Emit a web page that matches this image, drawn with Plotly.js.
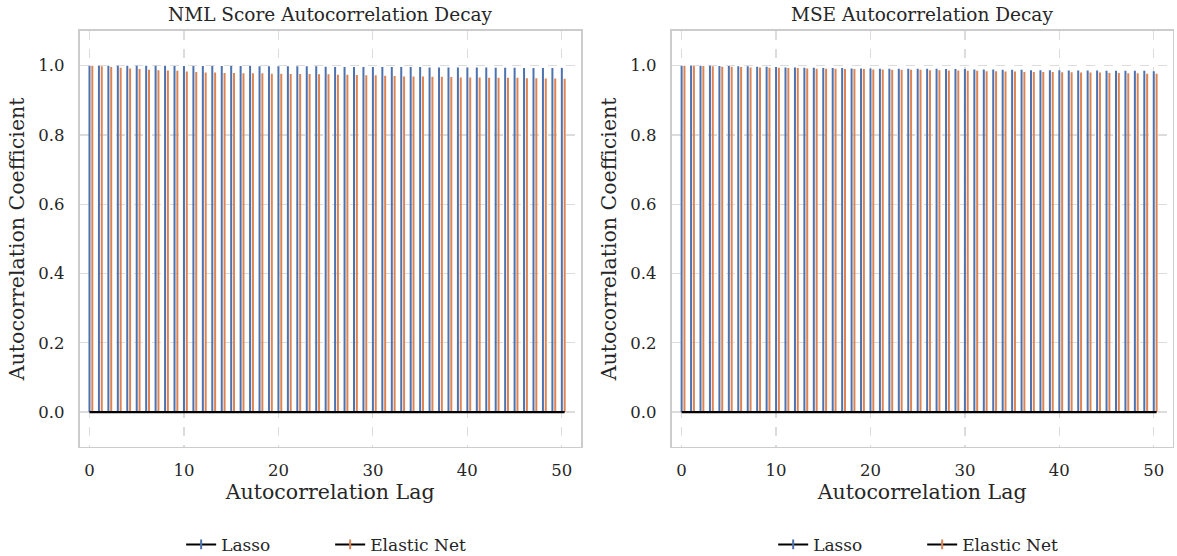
<!DOCTYPE html>
<html>
<head>
<meta charset="utf-8">
<script src="https://cdn.plot.ly/plotly-3.0.1.min.js"></script>
<style>html,body{margin:0;padding:0;background:#fff;}#chart{width:1177px;height:556px;}</style>
</head>
<body>
<div id="chart"></div>
<script>
// ---- data ----
const lags = [0,1,2,3,4,5,6,7,8,9,10,11,12,13,14,15,16,17,18,19,20,21,22,23,24,25,26,27,28,29,30,31,32,33,34,35,36,37,38,39,40,41,42,43,44,45,46,47,48,49,50];
const seriesNames = ["Lasso", "Elastic Net"];
const panelTitles = ["NML Score Autocorrelation Decay", "MSE Autocorrelation Decay"];
const xTitle = "Autocorrelation Lag";
const yTitle = "Autocorrelation Coefficient";

const nmlLasso = [1.000,1.000,1.000,1.000,1.000,1.000,1.000,1.000,1.000,0.999,0.999,0.999,0.999,0.999,0.999,0.999,0.999,0.999,0.998,0.998,0.998,0.998,0.998,0.998,0.998,0.997,0.996,0.996,0.996,0.996,0.996,0.996,0.996,0.996,0.996,0.996,0.995,0.995,0.995,0.995,0.995,0.995,0.995,0.994,0.994,0.994,0.993,0.993,0.993,0.993,0.993];
const nmlElastic = [1.000,0.998,0.996,0.994,0.992,0.990,0.988,0.987,0.986,0.985,0.983,0.982,0.980,0.980,0.979,0.979,0.978,0.978,0.978,0.977,0.977,0.976,0.976,0.976,0.975,0.975,0.974,0.974,0.973,0.972,0.972,0.971,0.970,0.969,0.969,0.969,0.968,0.968,0.967,0.966,0.966,0.966,0.965,0.965,0.965,0.965,0.964,0.964,0.963,0.963,0.962];
const mseLasso = [1.000,1.000,1.000,1.000,0.999,0.999,0.998,0.998,0.997,0.997,0.996,0.995,0.995,0.994,0.994,0.993,0.993,0.993,0.992,0.992,0.992,0.991,0.991,0.991,0.991,0.991,0.991,0.991,0.990,0.990,0.990,0.989,0.989,0.989,0.988,0.988,0.988,0.987,0.987,0.987,0.987,0.986,0.986,0.986,0.986,0.985,0.985,0.985,0.985,0.985,0.984];
const mseElastic = [1.000,0.999,0.999,0.998,0.997,0.997,0.996,0.995,0.995,0.994,0.994,0.993,0.993,0.992,0.991,0.991,0.991,0.990,0.990,0.990,0.989,0.989,0.988,0.988,0.988,0.988,0.987,0.987,0.986,0.986,0.985,0.985,0.984,0.984,0.983,0.983,0.982,0.982,0.982,0.982,0.981,0.981,0.980,0.980,0.980,0.979,0.979,0.978,0.978,0.977,0.977];

const xTicks = [0,10,20,30,40,50];
const yTicks = [0.0,0.2,0.4,0.6,0.8,1.0];
const yTickText = ["0.0","0.2","0.4","0.6","0.8","1.0"];

// ---- style ----
const colors = ["#4C72B0", "#DD8452"];
const offsets = [0, 0.3];
const FONT = "DejaVu Serif, Liberation Serif, serif";
const TXT = "#262626";

function stemXY(xs, ys, off) {
  const X = [], Y = [];
  for (let i = 0; i < xs.length; i++) {
    X.push(xs[i] + off, xs[i] + off, null);
    Y.push(0, ys[i], null);
  }
  return {X, Y};
}

const panels = [[nmlLasso, nmlElastic], [mseLasso, mseElastic]];
const traces = [];
panels.forEach((pair, p) => {
  const xa = p === 0 ? "x" : "x2";
  const ya = p === 0 ? "y" : "y2";
  const lg = p === 0 ? "legend" : "legend2";
  pair.forEach((vals, s) => {
    const st = stemXY(lags, vals, offsets[s]);
    traces.push({
      type: "scatter", mode: "lines", x: st.X, y: st.Y,
      xaxis: xa, yaxis: ya, showlegend: false, hoverinfo: "skip",
      line: {color: colors[s], width: 2}
    });
  });
  // baseline
  traces.push({
    type: "scatter", mode: "lines",
    x: [lags[0], lags[lags.length - 1] + offsets[1]], y: [0, 0],
    xaxis: xa, yaxis: ya, showlegend: false, hoverinfo: "skip",
    line: {color: "#000000", width: 2.2}
  });
  // legend entries (stem-style icons)
  seriesNames.forEach((nm, s) => {
    traces.push({
      type: "scatter", mode: "lines+markers", x: [null], y: [null],
      xaxis: xa, yaxis: ya, name: nm, legend: lg, showlegend: true,
      line: {color: "#000000", width: 2},
      marker: {symbol: "line-ns-open", size: 7, color: colors[s], line: {color: colors[s], width: 2}}
    });
  });
});

function xaxisCfg(domain, anchor) {
  return {
    domain: domain, anchor: anchor, range: [-1.05, 52.0],
    tickvals: xTicks, ticktext: xTicks.map(String),
    ticks: "outside", ticklen: 8, tickcolor: "rgba(0,0,0,0)",
    tickfont: {family: FONT, size: 16.5, color: TXT},
    showgrid: true, gridcolor: "#dcdcdc", griddash: "dash", gridwidth: 1.2,
    zeroline: false, showline: true, mirror: true, linecolor: "#cccccc", linewidth: 1.8,
    title: {text: xTitle, font: {family: FONT, size: 20.5, color: TXT}, standoff: 4}
  };
}
function yaxisCfg(anchor) {
  return {
    domain: [0.1966, 0.9442], anchor: anchor, range: [-0.1, 1.1],
    tickvals: yTicks, ticktext: yTickText,
    ticks: "outside", ticklen: 10, tickcolor: "rgba(0,0,0,0)",
    tickfont: {family: FONT, size: 16.5, color: TXT},
    showgrid: true, gridcolor: "#dcdcdc", griddash: "dash", gridwidth: 1.2,
    zeroline: false, showline: true, mirror: true, linecolor: "#cccccc", linewidth: 1.8,
    title: {text: yTitle, font: {family: FONT, size: 20.5, color: TXT}, standoff: 8}
  };
}

const xd1 = [0.0676, 0.4934], xd2 = [0.5707, 0.9963];
const legendCfg = (xc) => ({
  orientation: "h", xref: "paper", yref: "container",
  x: xc, xanchor: "center", y: 0.02, yanchor: "middle",
  font: {family: FONT, size: 17, color: TXT}, bgcolor: "rgba(0,0,0,0)",
  itemwidth: 30, entrywidth: 104, tracegroupgap: 0
});

const layout = {
  width: 1177, height: 556,
  margin: {l: 0, r: 0, t: 0, b: 0, autoexpand: false},
  paper_bgcolor: "#ffffff", plot_bgcolor: "#ffffff",
  font: {family: FONT, color: TXT},
  xaxis: xaxisCfg(xd1, "y"),
  yaxis: yaxisCfg("x"),
  xaxis2: xaxisCfg(xd2, "y2"),
  yaxis2: yaxisCfg("x2"),
  legend: legendCfg((xd1[0] + xd1[1]) / 2),
  legend2: legendCfg((xd2[0] + xd2[1]) / 2),
  annotations: panelTitles.map((t, i) => ({
    text: t, xref: "paper", yref: "paper",
    x: i === 0 ? (xd1[0] + xd1[1]) / 2 : (xd2[0] + xd2[1]) / 2,
    y: 0.9442, yshift: 4, xanchor: "center", yanchor: "bottom", showarrow: false,
    font: {family: FONT, size: 18.5, color: TXT}
  })),
  showlegend: true
};

Plotly.newPlot("chart", traces, layout, {displayModeBar: false, staticPlot: true});
</script>
</body>
</html>
